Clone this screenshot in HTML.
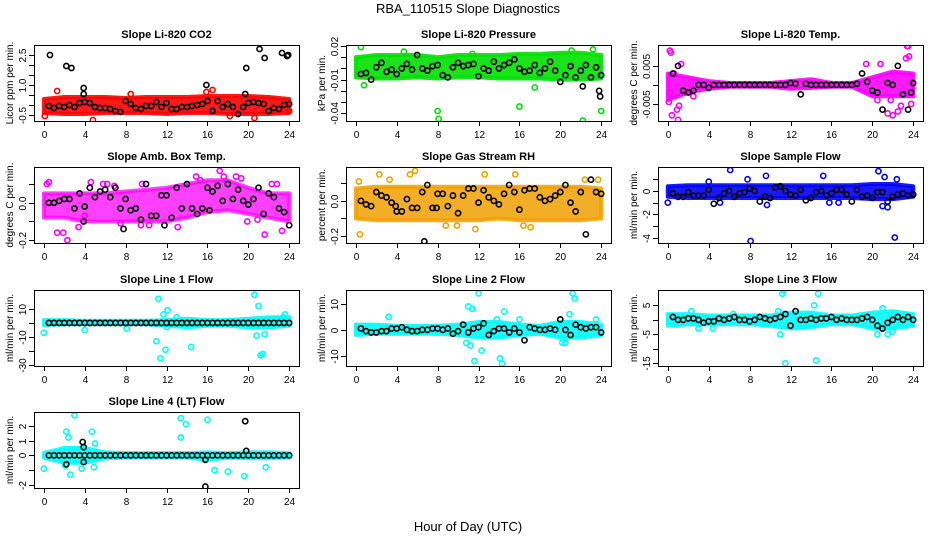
<!DOCTYPE html>
<html><head><meta charset="utf-8"><style>
html,body{margin:0;padding:0;background:#fff}
svg{display:block;font-family:"Liberation Sans",sans-serif}
</style></head><body>
<svg id="chart" width="936" height="540" viewBox="0 0 936 540">
<text x="468" y="13" text-anchor="middle" font-size="13">RBA_110515  Slope Diagnostics</text>
<text x="468" y="531" text-anchor="middle" font-size="13">Hour of Day (UTC)</text>
</svg>
<script>
// shared data
const blackTimes = [];
for (let i = 1; i <= 48; i++) blackTimes.push(i * 0.5);
const bandHours = [0,2,4,6,8,10,12,14,16,18,20,22,24];
const xTicks = [0,4,8,12,16,20,24];

// Panel 1: CO2
const co2Black = [-0.05,-0.15,-0.05,-0.1,0,-0.1,0.1,0.15,0.1,-0.1,-0.15,-0.15,-0.2,-0.3,-0.35,0.2,0.05,-0.15,-0.2,-0.05,-0.05,0.15,-0.1,0.1,-0.2,-0.2,-0.1,-0.1,-0.05,0,0.05,0.2,-0.3,0.2,-0.1,0.05,-0.1,-0.45,-0.1,0.1,0.15,0.1,0.05,-0.3,-0.15,-0.2,0.0,0.05];
const co2BlackOutX = [0.6,2.2,2.7,3.9,3.9,15.9,19.8,19.7,21.1,21.6,23.3,23.8,23.9];
const co2BlackOutY = [2.5,1.95,1.85,0.85,0.55,1.0,1.85,0.55,2.8,2.35,2.6,2.45,2.5];
const co2BandHi = [0.3,0.4,0.4,0.4,0.35,0.4,0.4,0.4,0.45,0.45,0.45,0.4,0.3];
const co2BandLo = [-0.4,-0.45,-0.45,-0.4,-0.4,-0.4,-0.45,-0.4,-0.4,-0.45,-0.45,-0.45,-0.4];
const co2OutX = [0.1,1.3,4.8,8.5,15.9,16.5,18.2,20.6,24];
const co2OutY = [-0.55,0.7,-0.75,0.55,0.65,0.75,-0.55,-0.65,-0.3];

// Panel 2: Pressure
const presBlack = [-0.005,-0.004,-0.01,0.001,0.005,-0.003,-0.001,-0.005,0.0,0.004,-0.001,0.012,0.0,-0.002,0.002,0.003,-0.006,-0.008,0.001,0.005,0.002,0.003,0.004,-0.007,0.0,-0.002,0.006,0.0,0.003,0.005,0.008,0.0,-0.003,-0.002,0.003,-0.004,0.0,0.006,-0.002,-0.012,-0.006,0.002,-0.008,-0.002,0.003,-0.008,0.001,-0.006];
const presBlackOutX = [23.8,23.9,22.2];
const presBlackOutY = [-0.02,-0.025,-0.016];
const presBandHi = [0.01,0.012,0.012,0.012,0.01,0.012,0.012,0.012,0.013,0.013,0.014,0.014,0.012];
const presBandLo = [-0.008,-0.009,-0.009,-0.008,-0.009,-0.008,-0.008,-0.009,-0.009,-0.009,-0.01,-0.01,-0.009];
const presOutX = [0.5,8.0,8.1,16,22.2,24,4.7,11.4,23.2,0.8,17.5,21.1];
const presOutY = [0.019,-0.038,-0.045,-0.034,-0.0465,-0.038,0.015,0.013,0.017,-0.015,-0.017,0.016];

// Panel 3: Li-820 Temp
const tempBlack = [0.003,0.005,-0.0015,-0.002,-0.0015,0,0,-0.0008,0,0,0,0,0,0,0,0,0,0,0,0,0,0,0,0.0005,0.0003,-0.0025,0.0003,0,0,0,0,0,0,0,0,0,0.0003,0.003,0.0008,-0.0015,-0.002,-0.0065,0.0005,0,0.005,-0.0025,-0.0065,0.0005];
const tempBlackOutX = [23.8];
const tempBlackOutY = [-0.002];
const tempBandHi = [0.003,0.002,0.001,0.0005,0.0005,0.0005,0.001,0.0015,0.0005,0.0005,0.002,0.0035,0.003];
const tempBandLo = [-0.004,-0.002,-0.001,-0.0005,-0.0005,-0.0005,-0.001,-0.0008,-0.0005,-0.0005,-0.003,-0.003,-0.003];
const tempOutX = [0.2,0.3,0.1,0.4,1.0,0.9,1.1,0.6,1.3,2.5,19.4,20.8,21.5,22,22.5,23.4,23.5,23.6,23.3,21.8,20.5,22.8,23.8,1.7,0.2];
const tempOutY = [0.009,0.0085,-0.0045,-0.008,-0.0092,-0.0065,-0.0055,0.003,0.0055,-0.003,0.0055,0.0055,-0.0075,-0.008,-0.007,0.0102,0.0102,0.0075,0.007,-0.004,-0.004,-0.0055,-0.005,-0.002,-0.002];

// Panel 4: Amb box temp
const ambBlack = [0,0,0.01,0.02,0.02,-0.03,0.05,-0.02,0.08,0.03,0.06,0.07,0.03,0.08,-0.03,0.02,-0.04,-0.03,-0.09,0.1,-0.07,-0.07,0.04,0.04,-0.08,0.08,-0.03,0.1,-0.03,-0.06,-0.03,0.08,0.06,0.09,0.01,0.1,0.02,0.07,0.01,-0.01,0.02,0.08,-0.06,0.05,0.03,-0.03,-0.05,-0.12];
const ambBlackOutX = [7.8,11.8,3.9,16.2];
const ambBlackOutY = [-0.14,-0.12,-0.1,-0.04];
const ambBandHi = [0.05,0.05,0.05,0.05,0.06,0.07,0.08,0.1,0.12,0.12,0.08,0.05,0.05];
const ambBandLo = [-0.08,-0.08,-0.1,-0.1,-0.1,-0.1,-0.1,-0.08,-0.05,-0.04,-0.06,-0.08,-0.1];
const ambOutX = [0.3,0.5,1.3,1.9,2.3,3.4,4.6,5.8,6.2,6.9,9.6,10.3,13.1,14.9,15.3,17.2,17.6,18.8,19.3,21.6,22.3,22.8,23.3,20.9,19.9,9.5,7.5,4.0];
const ambOutY = [0.1,0.11,-0.16,-0.16,-0.2,-0.13,0.11,0.1,0.1,0.09,0.1,-0.12,-0.13,0.14,0.12,0.17,0.14,0.14,0.13,-0.17,0.1,0.1,-0.15,-0.09,-0.1,-0.12,-0.11,-0.07];

// Panel 5: RH
const rhBlack = [0,-0.02,-0.03,0.05,0.03,0.02,-0.01,-0.06,-0.06,0.01,-0.04,-0.04,0.05,0.09,-0.04,0.04,0.04,-0.03,0.03,-0.07,0.03,0.07,0.07,-0.01,0.06,0.02,0.0,-0.02,0.04,0.09,0.05,-0.05,0.06,0.07,0.07,0.02,0.0,0.01,0.03,0.05,0.09,-0.01,-0.06,0.05,-0.19,0.12,0.05,0.04];
const rhBlackOutX = [6.7,3.9,7.9];
const rhBlackOutY = [-0.23,-0.03,-0.04];
const rhBandHi = [0.07,0.08,0.08,0.08,0.08,0.08,0.08,0.08,0.08,0.08,0.08,0.08,0.07];
const rhBandLo = [-0.1,-0.11,-0.11,-0.11,-0.11,-0.11,-0.11,-0.1,-0.11,-0.11,-0.11,-0.11,-0.1];
const rhOutX = [0.3,2.3,5.3,5.8,0.4,11.7,17.1,22.4,23.7,8.8,9.9,16.4,12.6,15.6,3.3];
const rhOutY = [0.11,0.15,0.15,0.17,-0.19,-0.16,-0.15,0.12,0.12,-0.14,-0.14,-0.14,0.15,0.15,0.12];

// Panel 6: Sample flow
const sfBlack = [-0.2,-0.5,-0.5,-0.1,-0.4,-0.4,-0.4,0.1,-1.1,-0.6,-0.2,0,-0.5,-0.2,-0.1,0.2,0,-0.9,-0.5,-0.6,0.3,0.4,0,-0.3,-0.4,0.1,-0.8,-0.6,-0.1,0,-0.4,-0.2,0.1,0.1,-0.3,-0.9,0.1,-0.5,-0.4,-0.6,-0.1,-0.1,-0.9,-0.5,-0.3,-0.2,-0.4,-0.3];
const sfBlackOutX = [];
const sfBlackOutY = [];
const sfBandHi = [0.4,0.5,0.5,0.5,0.5,0.5,0.5,0.5,0.5,0.5,0.6,0.6,0.4];
const sfBandLo = [-0.5,-0.6,-0.6,-0.6,-0.6,-0.6,-0.6,-0.6,-0.6,-0.6,-0.7,-0.7,-0.5];
const sfOutX = [0,6.1,7.8,4,9.6,9.7,15.2,20.6,21.2,22.4,8.1,22.2,21,21.5,5.1,15.8,16.7];
const sfOutY = [-1,1.8,1,0.8,1.3,-1.2,1.3,1.7,1.2,1.0,-4.3,-4.0,-1.3,-1.4,-1,-1,-1];

// Panel 7: Line 1
const l1Black = [0,0,0,0,0,0,0,0,0,0,0,0,0,0,0,0,0,0,0,0,0,0,0,0,0,0,0,0,0,0,0,0,0,0,0,0,0,0,0,0,0,0,0,0,0,0,0,0];
const l1BlackOutX = [];
const l1BlackOutY = [];
const l1BandHi = [2,2,1.5,1.5,1.5,1.5,2,3,2,2,3,4,4];
const l1BandLo = [-1.5,-1,-1,-1,-1,-1,-2,-3,-2,-2,-3,-3,-2];
const l1OutX = [0,4,8.1,11,11.2,11.4,11.7,11.9,12.1,14.4,20.6,21,21.2,21.4,21.6,23.4,23.6,12,13,20.8];
const l1OutY = [-7,-5,-4,-13,17,-25,6,-19,9,-17,20,12,-23,-22,-8,4,6,-3,4,-9];

// Panel 8: Line 2
const l2Black = [0.5,-0.5,-1,-1,-0.5,-0.5,0.5,0.5,1,0,-0.5,-0.5,0,0,0.5,0.5,0,0.5,-1.5,-0.5,2,-1,0.5,1,2.5,-2,-0.5,0.5,0.5,-1,0.5,-1,-4,1,0.5,0,0,0.5,0,4,0,-2,2,1,0.5,1,1,-1];
const l2BlackOutX = [];
const l2BlackOutY = [];
const l2BandHi = [2,2,1.5,1.5,1.5,2,3,3,2,1.5,3,3,2];
const l2BandLo = [-2,-1.5,-1.5,-1.5,-1.5,-2,-3,-3,-2,-1.5,-3,-3,-2];
const l2OutX = [3.2,11,11.2,11.6,11.4,12,12.3,14.1,14.3,14.5,16,20.5,20.9,21.2,21.4,23.5,10.8,20.2,13.8];
const l2OutY = [5,9,-6,-12,8,14,-8,-11,-13,7,4,-5,6,14,12,4,-5,-5,4];

// Panel 9: Line 3
const l3Black = [1,0,0,0.5,0.5,0,-1,-0.5,-0.5,0.5,0,0.5,1,0,0,-0.5,0,1,0.5,0,0.5,1,2,-2,3,0,0,0.5,0,0.5,0.5,1,0,0.5,0,0,0,0.5,1,0,-2,-3,-1,0,1,0,1,0];
const l3BlackOutX = [];
const l3BlackOutY = [];
const l3BandHi = [2,2,1.5,1.5,1.5,1.5,2.5,2.5,1.5,1.5,2.5,3,2];
const l3BandLo = [-2,-1.5,-1.5,-1.5,-1.5,-2,-3,-2.5,-1.5,-1.5,-3,-3,-2];
const l3OutX = [2.3,3,4.4,6.4,11,11.2,11.3,11.5,14.5,14.7,14.3,21,21.5,22,10.8,20.5,13.5];
const l3OutY = [3,-3,-3,2,-5,9,10,-15,-14,9,5,4,-5,-4,3,-5,-2];

// Panel 10: Line 4
const l4Black = [0,0,0,0,0,0,0,0,0,0,0,0,0,0,0,0,0,0,0,0,0,0,0,0,0,0,0,0,0,0,0,0,0,0,0,0,0,0,0,0,0,0,0,0,0,0,0,0];
const l4BlackOutX = [2.2,3.8,3.9,3.9,15.8,15.8,19.7,19.8];
const l4BlackOutY = [-0.6,0.9,0.55,-0.45,-2.1,-0.3,2.3,0.3];
const l4BandHi = [0.15,0.5,0.5,0.2,0.15,0.15,0.15,0.15,0.2,0.15,0.2,0.2,0.15];
const l4BandLo = [-0.15,-0.5,-0.5,-0.2,-0.15,-0.15,-0.15,-0.15,-0.3,-0.15,-0.2,-0.2,-0.15];
const l4OutX = [0,2.2,2.4,3,4.7,13.4,13.9,16,13.4,18,21.7,19.6,16.7,4.9,2.6,3.7,2.1,5];
const l4OutY = [-0.9,1.6,1.2,2.7,1.6,2.5,2.1,2.4,1.2,-1.1,-0.8,-1.4,-1,-0.8,-1.3,-0.9,-0.7,0.8];

const panels = [
 {name:'co2',title:'Slope Li-820 CO2',ylab:'Licor ppm per min.',col:0,row:0,ymin:-0.8,ymax:3.0,ticks:[-0.5,0,0.5,1,1.5,2,2.5],labels:{'-0.5':'-0.5','1':'1.0','2.5':'2.5'},color:'#ff0000',black:co2Black,bx:co2BlackOutX,by:co2BlackOutY,hi:co2BandHi,lo:co2BandLo,ox:co2OutX,oy:co2OutY},
 {name:'pressure',title:'Slope Li-820 Pressure',ylab:'kPa per min.',col:1,row:0,ymin:-0.0469,ymax:0.0209,ticks:[0.02,0.01,0,-0.01,-0.02,-0.03,-0.04],labels:{'0.02':'0.02','-0.01':'-0.01','-0.04':'-0.04'},color:'#00e000',black:presBlack,bx:presBlackOutX,by:presBlackOutY,hi:presBandHi,lo:presBandLo,ox:presOutX,oy:presOutY},
 {name:'li820-temp',title:'Slope Li-820 Temp.',ylab:'degrees C per min.',col:2,row:0,ymin:-0.0095,ymax:0.0105,ticks:[0.005,0,-0.005],labels:{'0.005':'0.005','-0.005':'-0.005'},color:'#ff00ff',black:tempBlack,bx:tempBlackOutX,by:tempBlackOutY,hi:tempBandHi,lo:tempBandLo,ox:tempOutX,oy:tempOutY},
 {name:'amb-box-temp',title:'Slope Amb. Box Temp.',ylab:'degrees C per min.',col:0,row:1,ymin:-0.215,ymax:0.191,ticks:[0.1,0,-0.1,-0.2],labels:{'0':'0.0','-0.2':'-0.2'},color:'#ff00ff',black:ambBlack,bx:ambBlackOutX,by:ambBlackOutY,hi:ambBandHi,lo:ambBandLo,ox:ambOutX,oy:ambOutY,alpha:0.75},
 {name:'gas-stream-rh',title:'Slope Gas Stream RH',ylab:'percent per min.',col:1,row:1,ymin:-0.239,ymax:0.192,ticks:[0.1,0,-0.1,-0.2],labels:{'0':'0.0','-0.2':'-0.2'},color:'#f0a000',black:rhBlack,bx:rhBlackOutX,by:rhBlackOutY,hi:rhBandHi,lo:rhBandLo,ox:rhOutX,oy:rhOutY,alpha:0.85},
 {name:'sample-flow',title:'Slope Sample Flow',ylab:'ml/min per min.',col:2,row:1,ymin:-4.47,ymax:2.06,ticks:[1,0,-1,-2,-3,-4],labels:{'0':'0','-2':'-2','-4':'-4'},color:'#0000ff',black:sfBlack,bx:sfBlackOutX,by:sfBlackOutY,hi:sfBandHi,lo:sfBandLo,ox:sfOutX,oy:sfOutY},
 {name:'line1-flow',title:'Slope Line 1 Flow',ylab:'ml/min per min.',col:0,row:2,ymin:-30.5,ymax:23.3,ticks:[10,0,-10,-20,-30],labels:{'10':'10','-10':'-10','-30':'-30'},color:'#00ffff',black:l1Black,bx:l1BlackOutX,by:l1BlackOutY,hi:l1BandHi,lo:l1BandLo,ox:l1OutX,oy:l1OutY},
 {name:'line2-flow',title:'Slope Line 2 Flow',ylab:'ml/min per min.',col:1,row:2,ymin:-13.9,ymax:15.3,ticks:[10,0,-10],labels:{'10':'10','0':'0','-10':'-10'},color:'#00ffff',black:l2Black,bx:l2BlackOutX,by:l2BlackOutY,hi:l2BandHi,lo:l2BandLo,ox:l2OutX,oy:l2OutY},
 {name:'line3-flow',title:'Slope Line 3 Flow',ylab:'ml/min per min.',col:2,row:2,ymin:-15.9,ymax:10.3,ticks:[5,0,-5,-10,-15],labels:{'5':'5','-5':'-5','-15':'-15'},color:'#00ffff',black:l3Black,bx:l3BlackOutX,by:l3BlackOutY,hi:l3BandHi,lo:l3BandLo,ox:l3OutX,oy:l3OutY},
 {name:'line4-flow',title:'Slope Line 4 (LT) Flow',ylab:'ml/min per min.',col:0,row:3,ymin:-2.2,ymax:2.92,ticks:[2,1,0,-1,-2],labels:{'2':'2','1':'1','0':'0','-2':'-2'},color:'#00ffff',black:l4Black,bx:l4BlackOutX,by:l4BlackOutY,hi:l4BandHi,lo:l4BandLo,ox:l4OutX,oy:l4OutY}
];

const NS = 'http://www.w3.org/2000/svg';
const svg = document.getElementById('chart');
function mk(tag, attrs, parent){const e=document.createElementNS(NS,tag);for(const k in attrs)e.setAttribute(k,attrs[k]);parent.appendChild(e);return e;}
const colLeft=[34,346,658], rowTop=[45,167,290,412], W=265, H=76;

panels.forEach(p=>{
  const L=colLeft[p.col], T=rowTop[p.row];
  const g=mk('g',{},svg);
  
  
  const xs=v=>L+(v+0.96)/25.92*W;
  const ys=v=>T+H-(v-p.ymin)/(p.ymax-p.ymin)*H;
  const clip='clip-'+p.name;
  const cp=mk('clipPath',{id:clip},g); mk('rect',{x:L,y:T,width:W,height:H},cp);
  const pg=mk('g',{'clip-path':'url(#'+clip+')'},g);
  // band
  let d='';
  bandHours.forEach((h,i)=>{d+=(i?'L':'M')+xs(h).toFixed(1)+','+ys(p.hi[i]).toFixed(1);});
  for(let i=bandHours.length-1;i>=0;i--) d+='L'+xs(bandHours[i]).toFixed(1)+','+ys(p.lo[i]).toFixed(1);
  const band=mk('path',{d:d+'Z',fill:p.color,'fill-opacity':p.alpha||0.9,stroke:p.color,'stroke-width':4,'stroke-linejoin':'round','stroke-opacity':p.alpha||0.9},pg);
  
  
  // colored outliers
  p.ox.forEach((x,i)=>{
    const c=mk('circle',{cx:xs(x),cy:ys(p.oy[i]),r:2.6,fill:'none',stroke:p.color,'stroke-width':1.6},pg);
    
    
  });
  // black points
  p.black.forEach((v,i)=>{
    const c=mk('circle',{cx:xs(blackTimes[i]),cy:ys(v),r:2.6,fill:'none',stroke:'#000','stroke-width':1.6},pg);
    
    
  });
  p.bx.forEach((x,i)=>{
    const c=mk('circle',{cx:xs(x),cy:ys(p.by[i]),r:2.6,fill:'none',stroke:'#000','stroke-width':1.6},pg);
    
    
  });
  // box
  const box=mk('rect',{x:L+0.5,y:T+0.5,width:W,height:H,fill:'none',stroke:'#000','stroke-width':1},g);
  
  
  // x axis
  xTicks.forEach(t=>{
    const X=Math.round(xs(t))+0.5;
    mk('line',{x1:X,x2:X,y1:T+H,y2:T+H+5,stroke:'#000'},g);
    const tx=mk('text',{x:X,y:T+H+17,'text-anchor':'middle','font-size':10},g);
    tx.textContent=t;
    
    
  });
  // y axis
  p.ticks.forEach(t=>{
    const Y=Math.round(ys(t))+0.5;
    mk('line',{x1:L-5,x2:L,y1:Y,y2:Y,stroke:'#000'},g);
    const lab=p.labels[String(t)];
    if(lab!==undefined){
      const tx=mk('text',{x:0,y:0,'text-anchor':'middle','font-size':10,transform:'translate('+(L-8)+','+Y+') rotate(-90)'},g);
      tx.textContent=lab;
      
      
    }
  });
  const yl=mk('text',{x:0,y:0,'text-anchor':'middle','font-size':10,transform:'translate('+(L-21)+','+(T+H/2)+') rotate(-90)'},g);
  yl.textContent=p.ylab;
  
  
  const ti=mk('text',{x:L+W/2,y:T-7,'text-anchor':'middle','font-size':11,'font-weight':'bold'},g);
  ti.textContent=p.title;
  
  
});
</script>
</body></html>
